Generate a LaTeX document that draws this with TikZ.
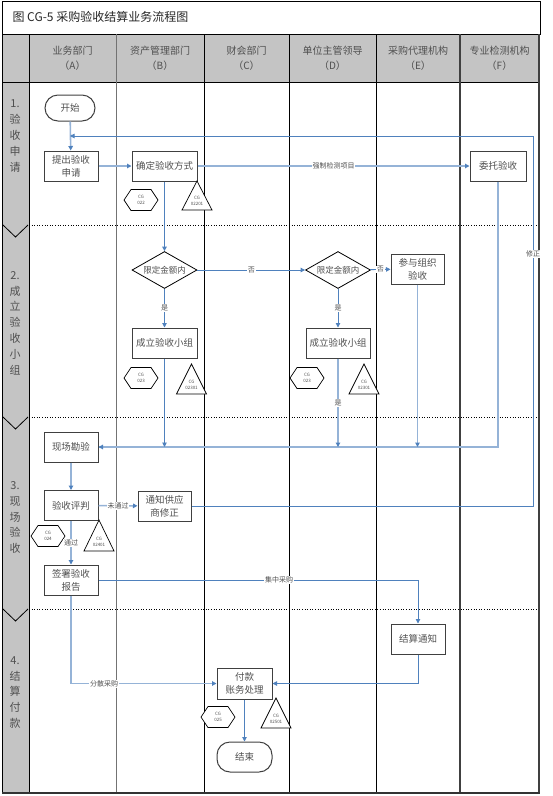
\documentclass[tikz,border=0pt]{standalone}
\usepackage{fontspec}
\setmainfont{Noto Sans CJK SC}
\usetikzlibrary{arrows.meta,calc,shapes.geometric}
\definecolor{lb}{HTML}{95B3D7}
\definecolor{db}{HTML}{4F81BD}
\definecolor{hg}{HTML}{C4C4C4}
\definecolor{tg}{HTML}{505050}
\newcommand{\cghex}[4]{%
  \draw[cgshape] ({#2-17},#3) -- ({#2-10},{#3-10.5}) -- ({#2+10},{#3-10.5}) -- ({#2+17},#3) -- ({#2+10},{#3+10.5}) -- ({#2-10},{#3+10.5}) -- cycle;
  \node[cgtxt] (#1) at (#2,#3) {CG\\#4};}
\newcommand{\cgtri}[5]{%
  \draw[cgshape] (#2,#3) -- ({#2+15},#4) -- ({#2-15},#4) -- cycle;
  \node[cgtxt] (#1) at (#2,{#4-9}) {CG\\#5};}
\begin{document}
\begin{tikzpicture}[x=1pt,y=-1pt,
  proc/.style={draw=black!75, line width=1pt, fill=white, text=tg, font=\fontsize{9.5}{13}\selectfont, align=center, inner sep=0pt, minimum height=30pt},
  term/.style={proc, rounded corners=13pt},
  dia/.style={diamond, draw=black, line width=0.8pt, fill=white, text=tg, font=\fontsize{8.5}{10}\selectfont, inner sep=0pt, aspect=1.76, minimum width=65pt, minimum height=37pt},
  cgshape/.style={draw=black, line width=0.7pt, fill=white},
  cgtxt/.style={font=\fontsize{4.5}{6.5}\selectfont, align=center, inner sep=0pt, text=tg},
  lflow/.style={draw=lb, line width=1.6pt, -{Triangle[length=4.5pt,width=4.5pt,color=db]}},
  dflow/.style={draw=db, line width=0.9pt, -{Triangle[length=4.5pt,width=4.5pt,color=db]}},
  lline/.style={draw=lb, line width=1.6pt},
  dline/.style={draw=db, line width=0.9pt},
  elab/.style={fill=white, inner sep=0.8pt, text=tg, font=\fontsize{7}{8}\selectfont},
  hdr/.style={align=center, text=tg, font=\fontsize{10}{15}\selectfont},
  phase/.style={align=center, text=tg, font=\fontsize{11}{15.8}\selectfont},
  rowsep/.style={dotted, line width=0.6pt, draw=black}]
\useasboundingbox (0,0) rectangle (553,796);
% title
\draw[line width=0.8pt] (2,1) rectangle (540,34);
\node[anchor=west, font=\fontsize{12}{14}\selectfont, text=black!85] (title) at (9,17) {图 CG-5 采购验收结算业务流程图};
% header and phase column
\fill[hg] (2,34) rectangle (539,82);
\fill[hg] (2,82) rectangle (29,793);
\draw[line width=0.8pt] (2,34) -- (539,34);
\draw[line width=0.8pt] (2,82) -- (539,82);
% row separators
\draw[rowsep] (29,225) -- (539,225);
\draw[rowsep] (29,417) -- (539,417);
\draw[rowsep] (29,609) -- (539,609);
% column lines
\draw[line width=1pt] (2,34) -- (2,793);
\draw[line width=1pt] (29,34) -- (29,793);
\draw[line width=1pt, draw=black!55] (116,34) -- (116,793);
\draw[line width=1pt] (204,34) -- (204,793);
\draw[line width=1pt] (289,34) -- (289,793);
\draw[line width=1pt] (376,34) -- (376,793);
\draw[line width=1.8pt, draw=black!75] (460,34) -- (460,793);
\draw[line width=1.8pt, draw=black!75] (539,34) -- (539,793);
\draw[line width=1.5pt, draw=black!80] (2,793) -- (540,793);
% phase chevrons
\foreach \yy in {225,417,609} {\draw[line width=0.8pt] (3,\yy) -- (15.5,{\yy+12}) -- (28,\yy);}
% headers
\node[hdr] (hA) at (72.5,58.5) {业务部门\\（A）};
\node[hdr] (hB) at (160,58.5) {资产管理部门\\（B）};
\node[hdr] (hC) at (246.5,58.5) {财会部门\\（C）};
\node[hdr] (hD) at (332.5,58.5) {单位主管领导\\（D）};
\node[hdr] (hE) at (418,58.5) {采购代理机构\\（E）};
\node[hdr] (hF) at (499.5,58.5) {专业检测机构\\（F）};
% phase labels
\node[phase] (p1) at (15,136) {1.\\验\\收\\申\\请};
\node[phase] (p2) at (15,323) {2.\\成\\立\\验\\收\\小\\组};
\node[phase] (p3) at (15,517.5) {3.\\现\\场\\验\\收};
\node[phase] (p4) at (15,692.5) {4.\\结\\算\\付\\款};
% nodes
\node[term, minimum width=50pt, minimum height=26pt] (start) at (70,108) {开始};
\node[proc, minimum width=54pt] (tichu) at (71,166) {提出验收\\申请};
\node[proc, minimum width=65pt] (queding) at (164.5,166) {确定验收方式};
\node[proc, minimum width=56pt] (weituo) at (498,166) {委托验收};
\node[dia] (dB) at (164.5,270) {限定金额内};
\node[dia] (dD) at (338,270) {限定金额内};
\node[proc, minimum width=53pt] (canyu) at (417.5,269) {参与组织\\验收};
\node[proc, minimum width=65pt] (chengB) at (164.5,343) {成立验收小组};
\node[proc, minimum width=64pt] (chengD) at (338,343) {成立验收小组};
\node[proc, minimum width=54pt] (xianchang) at (71,447) {现场勘验};
\node[proc, minimum width=54pt] (pingpan) at (71,505.5) {验收评判};
\node[proc, minimum width=53pt] (tongzhi) at (164.5,506) {通知供应\\商修正};
\node[proc, minimum width=54pt] (qianshu) at (71,580) {签署验收\\报告};
\node[proc, minimum width=54pt] (jiesuan) at (418,639) {结算通知};
\node[proc, minimum width=55pt, minimum height=31pt] (fukuan) at (244.5,683.5) {付款\\账务处理};
\node[term, minimum width=55pt, minimum height=30pt] (end) at (244.5,757) {结束};
% CG markers
\cghex{hB1}{141}{200}{022}
\cgtri{tB1}{197}{181}{210}{02201}
\cghex{hB2}{141}{378}{023}
\cgtri{tB2}{191.5}{364}{394}{02301}
\cghex{hD2}{307}{378}{023}
\cgtri{tD2}{364}{364}{394}{02301}
\cghex{hA3}{48}{536}{024}
\cgtri{tA3}{99}{520}{551}{02401}
\cghex{hC4}{218}{717}{025}
\cgtri{tC4}{276}{698}{728}{02501}
% connectors
\coordinate (loopR) at (533,136);
\draw[lflow] (start) -- (tichu);
\draw[dflow] (tongzhi.east) -| (loopR) -- (start |- loopR);
\draw[lflow] (tichu) -- (queding);
\draw[lflow] (queding) -- node[elab] (l1) {强制检测项目} (weituo);
\draw[dflow] (queding) -- (dB);
\draw[dflow] (dB) -- node[elab] (l2) {否} (dD);
\draw[dflow] (dD) -- node[elab] (l3) {否} (canyu);
\draw[dflow] (dB) -- node[elab] (l4) {是} (chengB);
\draw[dflow] (dD) -- node[elab] (l5) {是} (chengD);
\draw[lline] (weituo) |- (xianchang.east);
\draw[lflow] (weituo |- xianchang) -- (xianchang);
\draw[dflow] (chengB) -- (chengB |- xianchang);
\draw[lflow] (chengD) -- node[elab] (l6) {是} (chengD |- xianchang);
\draw[lflow] (canyu) -- (canyu |- xianchang);
\draw[lflow] (xianchang) -- (pingpan);
\draw[lflow] (pingpan) -- node[elab] (l7) {未通过} (tongzhi);
\draw[lflow] (pingpan) -- node[elab] (l8) {通过} (qianshu);
\draw[dflow] (qianshu) -| (jiesuan);
\draw[lflow] (qianshu) |- (fukuan);
\draw[dflow] (jiesuan) |- (fukuan);
\draw[dflow] (fukuan) -- (end);
\node[elab] (l9) at (533,254) {修正};
\node[elab] (l10) at (279,580) {集中采购};
\node[elab] (l11) at (104,684) {分散采购};
\end{tikzpicture}
\end{document}
